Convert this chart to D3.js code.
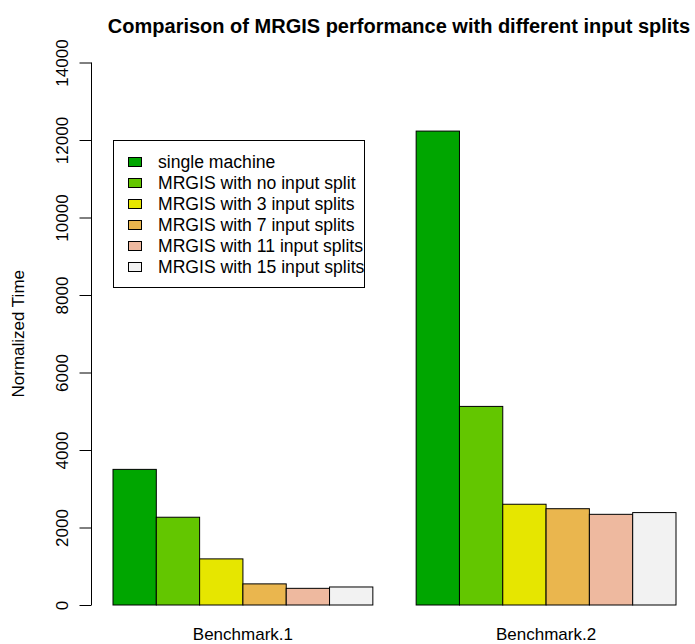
<!DOCTYPE html>
<html>
<head>
<meta charset="utf-8">
<script src="https://cdn.jsdelivr.net/npm/d3@7"></script>
<style>
  body { margin: 0; background: #fff; }
  text { font-family: "Liberation Sans", Arial, sans-serif; fill: #000; }
</style>
</head>
<body>
<svg id="chart"></svg>
<script>
const benchmarks = ["Benchmark.1", "Benchmark.2"];
const setups = ["single machine", "MRGIS with no input split", "MRGIS with 3 input splits",
    "MRGIS with 7 input splits", "MRGIS with 11 input splits", "MRGIS with 15 input splits"];
const bench1 = [3500, 2265, 1190, 545, 430, 465];
const bench2 = [12230, 5125, 2600, 2485, 2340, 2385];
const yTicks = [0, 2000, 4000, 6000, 8000, 10000, 12000, 14000];
const colors = ["#00A600", "#63C600", "#E6E600", "#EAB64E", "#EEB99F", "#F2F2F2"];

const width = 695, height = 644;
const svg = d3.select("#chart").attr("width", width).attr("height", height);

const rows = benchmarks.map((b, i) => ({name: b, values: [bench1, bench2][i]}));

// group scale, bars touch inside a group, one bar-width gap between groups
const x0 = d3.scaleBand().domain(benchmarks).range([113, 676]).paddingInner(1 / 7).paddingOuter(0);
const x1 = d3.scaleBand().domain(d3.range(setups.length)).range([0, x0.bandwidth()]);
const y = d3.scaleLinear().domain([0, 14000]).range([605, 62.5]);
const axisX = 91.5;

// title
svg.append("text")
    .attr("x", 399).attr("y", 33)
    .attr("text-anchor", "middle")
    .style("font-size", "20px").style("font-weight", "bold")
    .text("Comparison of MRGIS performance with different input splits");

// bars
const groups = svg.append("g").selectAll("g")
    .data(rows).join("g")
    .attr("transform", d => `translate(${x0(d.name)},0)`);
groups.selectAll("rect")
    .data(d => d.values)
    .join("rect")
    .attr("x", (d, i) => x1(i))
    .attr("y", d => y(d))
    .attr("width", x1.bandwidth())
    .attr("height", d => y(0) - y(d))
    .attr("fill", (d, i) => colors[i])
    .attr("stroke", "#000")
    .attr("stroke-width", 1);

// y axis (R style, labels parallel to axis)
const yAxis = svg.append("g")
    .attr("transform", `translate(${axisX},0)`)
    .call(d3.axisLeft(y).tickValues(yTicks).tickSize(12).tickSizeOuter(0).tickFormat(d3.format("d")));
yAxis.select(".domain").attr("d", `M0,${y(0)}V${y(14000)}`).attr("stroke", "#000");
yAxis.selectAll(".tick line").attr("stroke", "#000");
yAxis.selectAll(".tick text")
    .attr("x", 0).attr("y", 0)
    .attr("dy", 0)
    .attr("text-anchor", "middle")
    .attr("transform", "translate(-24,0) rotate(-90)")
    .style("font-size", "17px")
    .style("font-family", "'Liberation Sans', Arial, sans-serif");

svg.append("text")
    .attr("transform", `translate(24,${y(7000)}) rotate(-90)`)
    .attr("text-anchor", "middle")
    .style("font-size", "17px")
    .text("Normalized Time");

// group labels
svg.append("g").selectAll("text")
    .data(benchmarks).join("text")
    .attr("x", d => x0(d) + x0.bandwidth() / 2)
    .attr("y", 640)
    .attr("text-anchor", "middle")
    .style("font-size", "17px")
    .text(d => d);

// legend
const legend = svg.append("g");
legend.append("rect")
    .attr("x", 113.5).attr("y", 140.5)
    .attr("width", 251).attr("height", 147)
    .attr("fill", "#fff").attr("stroke", "#000");
const item = legend.selectAll("g.item")
    .data(setups).join("g")
    .attr("class", "item")
    .attr("transform", (d, i) => `translate(0,${162 + i * 21})`);
item.append("rect")
    .attr("x", 128.5).attr("y", -4.5)
    .attr("width", 13).attr("height", 9)
    .attr("fill", (d, i) => colors[i])
    .attr("stroke", "#000");
item.append("text")
    .attr("x", 158).attr("y", 6)
    .style("font-size", "17.6px")
    .text(d => d);
</script>
</body>
</html>
